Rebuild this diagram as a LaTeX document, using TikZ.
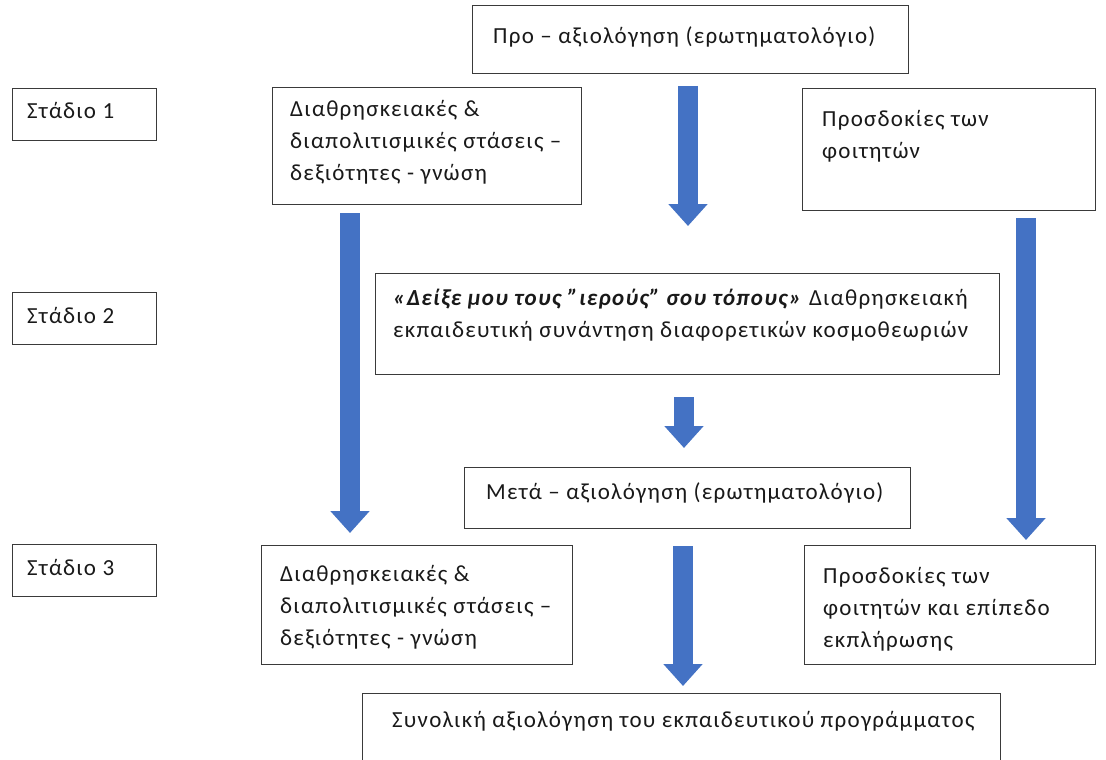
\documentclass[tikz,border=0pt]{standalone}
\usepackage{fontspec}
\setmainfont[LetterSpace=5.5]{Carlito}
\usetikzlibrary{arrows.meta}
\definecolor{arrowblue}{HTML}{4472C4}
\definecolor{edgegray}{HTML}{3A3A3A}
\begin{document}
\begin{tikzpicture}[x=1pt,y=-1pt,
  box/.style={draw=edgegray, line width=1.4pt, inner sep=0pt, anchor=north west},
  txt/.style={anchor=north west, inner sep=0pt, align=left, text=black!90, font=\fontsize{23}{32}\selectfont},
  blockarrow/.style={draw=arrowblue, line width=20pt, -{Triangle[width=38pt,length=22pt]}}]
\clip (0,0) rectangle (1106,760);
\fill[white] (0,0) rectangle (1106,760);

% boxes
\node[box, minimum width=436pt, minimum height=68pt] (pre) at (472,5) {};
\node[box, minimum width=144pt, minimum height=52pt] (s1) at (12,88) {};
\node[box, minimum width=309pt, minimum height=117pt] (l1) at (272,87) {};
\node[box, minimum width=293pt, minimum height=122pt] (r1) at (802,88) {};
\node[box, minimum width=144pt, minimum height=52pt] (s2) at (12,292) {};
\node[box, minimum width=624pt, minimum height=101pt] (mid) at (375,273) {};
\node[box, minimum width=446pt, minimum height=61pt] (post) at (464,467) {};
\node[box, minimum width=144pt, minimum height=52pt] (s3) at (12,544) {};
\node[box, minimum width=311pt, minimum height=119pt] (l3) at (261,545) {};
\node[box, minimum width=291pt, minimum height=119pt] (r3) at (804,545) {};
\node[box, minimum width=638pt, minimum height=120pt] (fin) at (362,693) {};

% texts
\node[txt] (tpre) at (493,26) {Προ – αξιολόγηση (ερωτηματολόγιο)};
\node[txt] (ts1) at (27,102) {Στάδιο 1};
\node[txt] (tl1) at (290,100) {Διαθρησκειακές \&\\διαπολιτισμικές στάσεις –\\δεξιότητες - γνώση};
\node[txt] (tr1) at (822,110) {Προσδοκίες των\\φοιτητών};
\node[txt] (ts2) at (27,307) {Στάδιο 2};
\node[txt] (tmid) at (393,289) {\textbf{\textit{«Δείξε μου τους \char34ιερούς\char34{} σου τόπους»}} Διαθρησκειακή\\εκπαιδευτική συνάντηση διαφορετικών κοσμοθεωριών};
\node[txt] (tpost) at (486,482) {Μετά – αξιολόγηση (ερωτηματολόγιο)};
\node[txt] (ts3) at (27,559) {Στάδιο 3};
\node[txt] (tl3) at (280,565) {Διαθρησκειακές \&\\διαπολιτισμικές στάσεις –\\δεξιότητες - γνώση};
\node[txt] (tr3) at (823,567) {Προσδοκίες των\\φοιτητών και επίπεδο\\εκπλήρωσης};
\node[txt] (tfin) at (392,711) {Συνολική αξιολόγηση του εκπαιδευτικού προγράμματος};

% arrow ends
\coordinate (a1s) at (688,86);  \coordinate (a1e) at (688,226);
\coordinate (a2s) at (350,213); \coordinate (a2e) at (350,533);
\coordinate (a3s) at (1026,218); \coordinate (a3e) at (1026,540);
\coordinate (a4s) at (684,397); \coordinate (a4e) at (684,448);
\coordinate (a5s) at (683,546); \coordinate (a5e) at (683,686);

\draw[blockarrow] (a1s) -- (a1e);
\draw[blockarrow] (a2s) -- (a2e);
\draw[blockarrow] (a3s) -- (a3e);
\draw[blockarrow] (a4s) -- (a4e);
\draw[blockarrow] (a5s) -- (a5e);
\end{tikzpicture}
\end{document}
